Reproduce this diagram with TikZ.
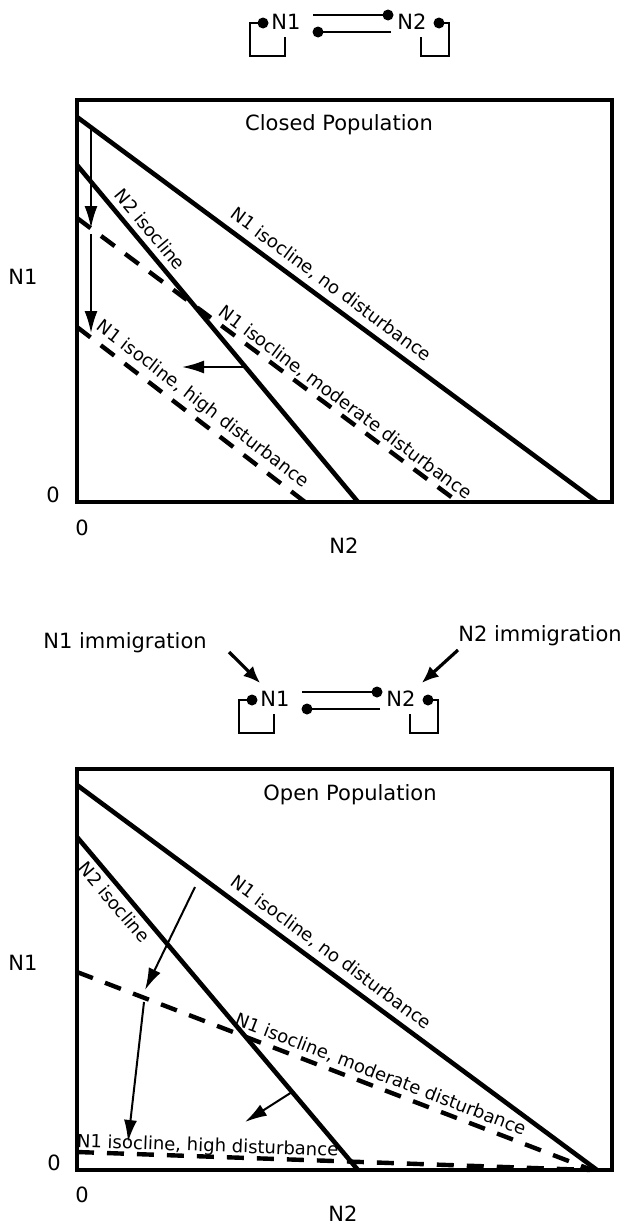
\documentclass[tikz,border=0pt]{standalone}
\usepackage{fontspec}
\setmainfont{DejaVu Sans}
\usetikzlibrary{arrows.meta}

\begin{document}
\begin{tikzpicture}[x=1pt, y=-1pt,
  txt/.style={font=\fontsize{21}{25}\selectfont, inner sep=0pt},
  lbl/.style={font=\fontsize{18}{22}\selectfont, inner sep=0pt, sloped},
  iso/.style={line width=4.6pt},
  isodash/.style={line width=4.4pt, dash pattern=on 17pt off 13pt},
  arr/.style={line width=2pt, -{Latex[length=22pt, width=13pt]}},
  immig/.style={line width=3.2pt, -{Latex[length=17pt, width=14pt]}},
  wire/.style={line width=1.8pt},
  ndot/.style={circle, fill, inner sep=0pt, minimum size=11pt}]

\useasboundingbox (0,0) rectangle (623,1226) ;

% the two species with their effects
\foreach \base/\tag in {{250,23}/top, {239,700}/bot} {
  \begin{scope}[shift={(\base)}]
  \node[txt] (N1\tag) at (36,-1) {N1} ;
  \node[txt] (N2\tag) at (162,-1) {N2} ;
  \node[ndot] (self1\tag) at (13,0) {} ;
  \node[ndot] (self2\tag) at (189,0) {} ;
  \coordinate (back1\tag) at (35,14) ;
  \coordinate (back2\tag) at (171,14) ;
  \draw[wire] (self1\tag.center) -- (0,0) -- (0,33) -- (35,33) -- (back1\tag) ;
  \draw[wire] (self2\tag.center) -- (199,0) -- (199,33) -- (171,33) -- (back2\tag) ;
  \node[ndot] (hit2\tag) at (138,-8) {} ;
  \node[ndot] (hit1\tag) at (68,9) {} ;
  \coordinate (from1\tag) at (63,-8) ;
  \coordinate (from2\tag) at (141,9) ;
  \draw[wire] (from1\tag) -- (hit2\tag.center) ;
  \draw[wire] (from2\tag) -- (hit1\tag.center) ;
  \end{scope}
}

\node[txt] (imm1) at (125,643) {N1 immigration} ;
\node[txt] (imm2) at (540,636) {N2 immigration} ;
\coordinate (in1) at (229,652) ;
\coordinate (in2) at (458,650) ;
\draw[immig] (in1) -- ([yshift=8pt]N1bot.north west) ;
\draw[immig] (in2) -- ([xshift=6pt, yshift=8pt]N2bot.north east) ;

% closed population
\draw[iso] (77,100) rectangle (612,502) ;
\node[txt] (closed) at (339,125) {Closed Population} ;
\draw[iso] (77,117) -- (597,502) node[lbl, pos=0.47, above=6pt] {N1 isocline, no disturbance} ;
\draw[iso] (77,165) -- (358,502) node[lbl, pos=0.22, above=6pt] {N2 isocline} ;
\draw[isodash] (77,218) -- (458,502) node[lbl, pos=0.685, above=2pt] {N1 isocline, moderate disturbance} ;
\draw[isodash] (77,327) -- (305,502) node[lbl, pos=0.51, above=4pt] {N1 isocline, high disturbance} ;
\draw[arr] (91,126) -- (91,228) ;
\draw[arr] (91,234) -- (91,333) ;
\draw[arr] (245,367) -- (182,367) ;
\node[txt] (n1top) at (23,277) {N1} ;
\node[txt] (zeroytop) at (53,495) {0} ;
\node[txt] (zeroxtop) at (82,528) {0} ;
\node[txt] (n2top) at (344,546) {N2} ;

% open population
\draw[iso] (77,769) rectangle (612,1170) ;
\node[txt] (open) at (350,795) {Open Population} ;
\draw[iso] (77,785) -- (597,1170) node[lbl, pos=0.47, above=6pt] {N1 isocline, no disturbance} ;
\draw[iso] (77,837) -- (358,1170) node[lbl, pos=0.17, below=4pt] {N2 isocline} ;
\draw[isodash] (77,972) -- (592,1170) node[lbl, pos=0.58, above=3pt] {N1 isocline, moderate disturbance} ;
\draw[isodash] (77,1152) -- (590,1170) node[lbl, pos=0.254, above=-1pt] {N1 isocline, high disturbance} ;
\draw[arr] (195,887) -- (145,990) ;
\draw[arr] (144,1002) -- (128,1142) ;
\draw[arr] (292,1092) -- (245,1122) ;
\node[txt] (n1bot) at (23,963) {N1} ;
\node[txt] (zeroybot) at (54,1163) {0} ;
\node[txt] (zeroxbot) at (82,1195) {0} ;
\node[txt] (n2bot) at (343,1214) {N2} ;
\end{tikzpicture}
\end{document}
